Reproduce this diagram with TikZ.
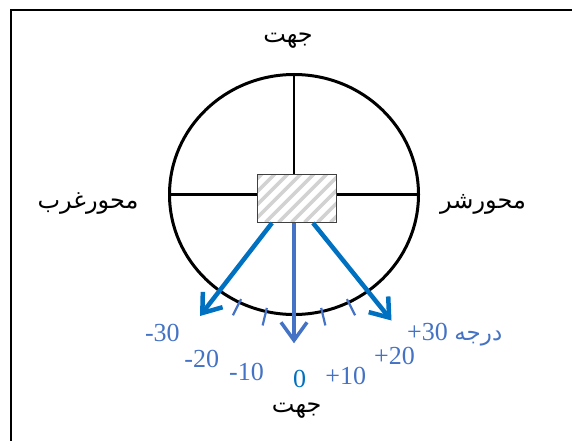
\documentclass[tikz,border=0pt]{standalone}
\usepackage{fontspec}
\setmainfont{Liberation Serif}
\newfontfamily\arabicfont[Script=Arabic]{DejaVu Sans}
\TeXXeTstate=1
\usetikzlibrary{arrows.meta,calc}
\definecolor{rayblue}{HTML}{0070C0}
\definecolor{lblblue}{HTML}{4472C4}
\definecolor{hatchgray}{HTML}{D2D2D2}

\begin{document}
\begin{tikzpicture}[
            x=1pt, y=-1pt,
            frame/.style={line width=2.5pt},
            axis/.style={line width=2.2pt},
            rim/.style={line width=3pt},
            blk/.style={draw=black!75, line width=1.3pt, fill=white,
            minimum width=79pt, minimum height=48pt, inner sep=0pt,
            path picture={\foreach \s in {-70,-57,...,90}
            \draw[hatchgray, line width=3.5pt]
            ($(path picture bounding box.south west)+(\s,0)$) -- ++(60,-60);}},
            ray/.style={rayblue, line width=4.5pt, -{Straight Barb[length=17pt, width=25pt]}},
            midray/.style={lblblue, line width=3.5pt, -{Straight Barb[length=18pt, width=26pt]}},
            tick/.style={lblblue, line width=2.2pt},
            num/.style={lblblue, font=\fontsize{26}{28}\selectfont, inner sep=0pt},
            word/.style={font=\arabicfont\fontsize{24}{28}\selectfont, inner sep=0pt,
            text height=13pt, text depth=7pt}
        ]
            \useasboundingbox (0,0) rectangle (572,441);
            \draw[frame] (11,10) rectangle (600,470);
% circle and cross
            \coordinate (ctr) at (294,194.5);
            \coordinate (wst) at (169.5,194.5);
            \coordinate (est) at (418.5,194.5);
            \coordinate (nth) at (294,74.5);
            \coordinate (sth) at (294,314.5);
            \draw[axis] (wst) -- (est);
            \draw[axis] (nth) -- (sth);
            \draw[rim] (ctr) ellipse [x radius=124.5, y radius=120];
            \node[blk] (box) at (297,198.3) {};
% ticks on the rim
            \foreach \a in {-26,-13,13,26}
            \draw[tick] ($(ctr)+({124.5*0.97*sin(\a)},{120*0.97*cos(\a)})$)
            -- ($(ctr)+({124.5*1.12*sin(\a)},{120*1.12*cos(\a)})$);
% rays
            \coordinate (tipW) at (200,316);
            \coordinate (tipE) at (391.5,320.5);
            \coordinate (tipS) at (294,343.3);
            \draw[ray] ($(box.south)+(-25,0)$) -- (tipW);
            \draw[ray] ($(box.south)+(16,0)$) -- (tipE);
            \draw[midray] (box.south -| tipS) -- (tipS);
% degree labels
            \node[num] (m30) at (162.4,333.3) {-30};
            \node[num] (m20) at (201.8,358.5) {-20};
            \node[num] (m10) at (246.5,371.7) {-10};
            \node[num, rayblue] (z0) at (299.5,379) {0};
            \node[num] (p10) at (345.8,375.8) {+10};
            \node[num] (p20) at (394.5,356) {+20};
            \node[num, anchor=base west] (p30) at (407,340)
            {+30 {\arabicfont\fontsize{23}{26}\selectfont\beginR درجه\endR}};
% axis names
            \node[word] (dirN) at (288,40) {\beginR جهت\endR};
            \node[word] (dirS) at (296.7,409) {\beginR جهت\endR};
            \node[word] (axW) at (88,205) {\beginR محورغرب\endR};
            \node[word] (axE) at (483,205) {\beginR محورشر\endR};
        \end{tikzpicture}
\end{document}
